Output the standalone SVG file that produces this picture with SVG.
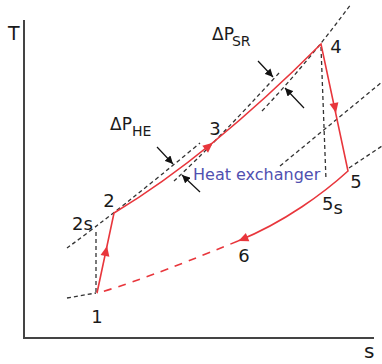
<svg xmlns="http://www.w3.org/2000/svg" width="382" height="364" viewBox="0 0 382 364">
<defs>
<style>
.lbl{font-family:"DejaVu Sans","Liberation Sans",sans-serif;font-size:18px;fill:#1a1a1a}
.sub{font-size:14px}
.he{font-family:"DejaVu Sans","Liberation Sans",sans-serif;font-size:16px;fill:#5050b0}
.iso{fill:none;stroke:#333;stroke-width:1.3;stroke-dasharray:4,3}
.red{fill:none;stroke:#e8363c;stroke-width:1.6}
.redd{fill:none;stroke:#e8363c;stroke-width:1.6;stroke-dasharray:8,7}
.axis{fill:none;stroke:#444;stroke-width:2}
.dp{fill:none;stroke:#111;stroke-width:1.2;marker-end:url(#ah)}
.rh{fill:#e8363c}
</style>
<marker id="ah" viewBox="0 0 10 10" refX="10" refY="5" markerWidth="8" markerHeight="8" markerUnits="userSpaceOnUse" orient="auto">
<path d="M0,0 L10,5 L0,10 Z" fill="#111"/>
</marker>
</defs>
<g id="axes">
<path class="axis" d="M24,20 L24,338 L374,338"/>
<text class="lbl" x="8" y="40" style="font-size:19px">T</text>
<text class="lbl" x="364" y="358" style="font-size:20px">s</text>
</g>
<g id="connectors">
<!-- isobars -->
<path class="iso" d="M67,298 L96,293"/>
<path class="iso" d="M67,248 Q118,211 200,143"/>
<path class="iso" d="M174,181 Q215,143 279,73"/>
<path class="iso" d="M262,111 Q310,60 351,4"/>
<path class="iso" d="M280,166 L382,82"/>
<path class="iso" d="M349,168 L382,146"/>
<!-- isentropic -->
<path class="iso" d="M96,292 L96,229"/>
<path class="iso" d="M321,47 L326,180"/>
<!-- cycle -->
<path class="red" d="M97,293 L114,213 Q209,156 321,44 L348,171 C325,192 285,222 238,241"/>
<path class="redd" d="M238,241 Q133,284 97,293"/>
<path class="rh" d="M5,0 L-5,-4.5 L-5,4.5 Z" transform="translate(106,251) rotate(-78)"/>
<path class="rh" d="M5,0 L-5,-4.5 L-5,4.5 Z" transform="translate(209,146) rotate(-40)"/>
<path class="rh" d="M5,0 L-5,-4.5 L-5,4.5 Z" transform="translate(335,108) rotate(78)"/>
<path class="rh" d="M5,0 L-5,-4.5 L-5,4.5 Z" transform="translate(243,239) rotate(157)"/>
<!-- pressure drop arrows -->
<path class="dp" d="M157,147 L173,164"/>
<path class="dp" d="M200,192 L182,175"/>
<path class="dp" d="M258,61 L273,77"/>
<path class="dp" d="M304,108 L285,88"/>
</g>
<g id="n1"><text class="lbl" x="97" y="323" text-anchor="middle">1</text></g>
<g id="n2s"><text class="lbl" x="72" y="230">2s</text></g>
<g id="n2"><text class="lbl" x="109" y="207" text-anchor="middle">2</text></g>
<g id="n3"><text class="lbl" x="215" y="135" text-anchor="middle">3</text></g>
<g id="n4"><text class="lbl" x="336" y="53" text-anchor="middle">4</text></g>
<g id="n5"><text class="lbl" x="356" y="188" text-anchor="middle">5</text></g>
<g id="n5s"><text class="lbl" x="322" y="210">5<tspan dy="4">s</tspan></text></g>
<g id="n6"><text class="lbl" x="244" y="262" text-anchor="middle">6</text></g>
<g id="dphe"><text class="lbl" x="110" y="130" style="font-size:17px">ΔP<tspan class="sub" dy="6">HE</tspan></text></g>
<g id="dpsr"><text class="lbl" x="212" y="40" style="font-size:17px">ΔP<tspan class="sub" dx="-2" dy="6">SR</tspan></text></g>
<g id="hx"><text class="he" x="193" y="180">Heat exchanger</text></g>
</svg>
